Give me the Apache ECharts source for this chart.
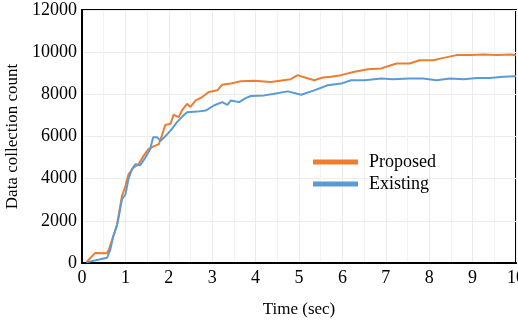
<!DOCTYPE html>
<html>
<head>
<meta charset="utf-8">
<script src="https://cdn.jsdelivr.net/npm/echarts@6/dist/echarts.min.js"></script>
<style>
  html, body { margin: 0; padding: 0; background: #fff; }
  #echarts { width: 518px; height: 322px; }
</style>
</head>
<body>
<div id="echarts"></div>
<script>
/*数据*/
var proposedTime = [0.11, 0.3, 0.57, 0.62, 0.72, 0.8, 0.92, 1.0, 1.07, 1.19, 1.3, 1.42, 1.53, 1.65, 1.77, 1.84, 1.92, 2.04, 2.11, 2.23, 2.3, 2.42, 2.5, 2.62, 2.77, 2.92, 3.12, 3.23, 3.43, 3.66, 3.97, 4.35, 4.81, 4.97, 5.08, 5.35, 5.55, 5.74, 5.97, 6.28, 6.59, 6.9, 7.01, 7.25, 7.55, 7.78, 8.09, 8.33, 8.63, 8.94, 9.25, 9.56, 9.87, 10.0];
var proposedCount = [60, 470, 460, 640, 1260, 1740, 3170, 3650, 4200, 4530, 4680, 5080, 5400, 5530, 5640, 6040, 6550, 6600, 7030, 6920, 7230, 7550, 7400, 7710, 7870, 8110, 8190, 8460, 8510, 8620, 8640, 8590, 8720, 8910, 8830, 8670, 8800, 8830, 8910, 9070, 9190, 9230, 9310, 9460, 9460, 9620, 9620, 9730, 9860, 9860, 9890, 9860, 9890, 9850];
var existingTime = [0.1, 0.42, 0.58, 0.65, 0.72, 0.82, 0.92, 1.0, 1.07, 1.15, 1.23, 1.34, 1.46, 1.57, 1.64, 1.73, 1.81, 1.92, 2.04, 2.19, 2.3, 2.42, 2.65, 2.85, 3.04, 3.23, 3.35, 3.43, 3.62, 3.77, 3.89, 4.2, 4.43, 4.74, 5.05, 5.35, 5.66, 5.97, 6.2, 6.51, 6.9, 7.17, 7.55, 7.86, 8.17, 8.48, 8.79, 9.1, 9.4, 9.71, 10.0];
var existingCount = [30, 175, 250, 620, 1260, 1900, 3010, 3250, 3970, 4450, 4680, 4640, 5000, 5400, 5960, 5960, 5800, 6010, 6280, 6680, 6920, 7150, 7180, 7230, 7470, 7630, 7500, 7710, 7630, 7820, 7920, 7950, 8030, 8140, 7980, 8190, 8430, 8510, 8670, 8670, 8750, 8720, 8750, 8750, 8670, 8750, 8720, 8780, 8780, 8830, 8860];
var seriesNames = ['Proposed', 'Existing'];
var seriesColors = ['#ED7D31', '#5B9BD5'];

var serif = "'Liberation Serif', 'Times New Roman', serif";

function pairs(xs, ys) {
    return xs.map(function (x, i) { return [x, ys[i]]; });
}

var myChart = echarts.init(document.getElementById('echarts'));

var option = {
    animation: false,
    color: seriesColors,
    grid: {
        left: 82,
        right: 2,
        top: 10,
        bottom: 59,
        outerBoundsMode: 'none',
        containLabel: false,
        show: true,
        borderColor: '#000',
        borderWidth: 2
    },
    legend: {
        orient: 'vertical',
        left: 308,
        top: 148,
        icon: 'rect',
        itemWidth: 45,
        itemHeight: 5,
        itemGap: 4,
        textStyle: { fontFamily: serif, fontSize: 18, color: '#000', padding: [0, 0, 0, 6] },
        data: seriesNames
    },
    xAxis: {
        type: 'value',
        min: 0,
        max: 10,
        interval: 1,
        name: 'Time (sec)',
        nameLocation: 'middle',
        nameGap: 38,
        nameTextStyle: { fontFamily: serif, fontSize: 17, color: '#000' },
        axisLine: { lineStyle: { color: '#000', width: 2 } },
        axisTick: { show: false },
        axisLabel: { fontFamily: serif, fontSize: 18, color: '#000', margin: 6 },
        splitLine: { show: true, lineStyle: { color: '#ececec' } },
        minorTick: { show: false, splitNumber: 2 },
        minorSplitLine: { show: true, lineStyle: { color: '#f2f2f2' } }
    },
    yAxis: {
        type: 'value',
        min: 0,
        max: 12000,
        interval: 2000,
        name: 'Data collection count',
        nameLocation: 'middle',
        nameGap: 54,
        nameTextStyle: { fontFamily: serif, fontSize: 17, color: '#000' },
        axisLine: { show: true, lineStyle: { color: '#000', width: 2 } },
        axisTick: { show: false },
        axisLabel: {
            fontFamily: serif, fontSize: 18, color: '#000', margin: 5,
            formatter: function (v) { return String(v); }
        },
        splitLine: { show: true, lineStyle: { color: '#ececec' } }
    },
    series: [{
        name: seriesNames[0],
        type: 'line',
        showSymbol: false,
        lineStyle: { width: 2 },
        data: pairs(proposedTime, proposedCount)
    }, {
        name: seriesNames[1],
        type: 'line',
        showSymbol: false,
        lineStyle: { width: 2 },
        data: pairs(existingTime, existingCount)
    }]
};

myChart.setOption(option);
</script>
</body>
</html>
